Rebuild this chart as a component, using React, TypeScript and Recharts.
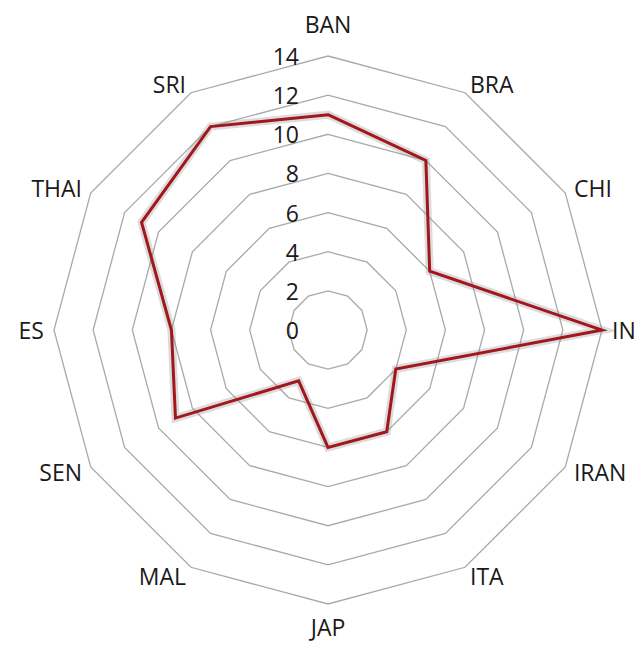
import { RadarChart, Radar, PolarGrid, PolarAngleAxis, PolarRadiusAxis } from "recharts";

const categories = ["BAN", "BRA", "CHI", "IN", "IRAN", "ITA", "JAP", "MAL", "SEN", "ES", "THAI", "SRI"];
const values = [11, 10, 6, 14, 4, 6, 6, 3, 9, 8, 11, 12];
const radiusTicks = [0, 2, 4, 6, 8, 10, 12, 14];

const data = categories.map((name, i) => ({ name, value: values[i] }));

const CX = 328;
const CY = 330;
const R = 274;
const FONT = "'Open Sans', sans-serif";

const AngleTick = (props: any) => {
  const i = categories.indexOf(props.payload.value);
  const theta = (i * 2 * Math.PI) / categories.length;
  const s = Math.sin(theta);
  const c = Math.cos(theta);
  let x = CX + (R + 10) * s;
  let y = CY - (R + 10) * c;
  let anchor = "middle";
  if (s > 0.1) anchor = "start";
  else if (s < -0.1) anchor = "end";
  if (Math.abs(s) < 0.1) y += c > 0 ? -22 : 13;
  return (
    <text
      x={x}
      y={y}
      textAnchor={anchor}
      dominantBaseline="central"
      fontFamily={FONT}
      fontSize={23}
      fill="#1a1a1a"
    >
      {props.payload.value}
    </text>
  );
};

const RadiusTick = (props: any) => {
  return (
    <text
      x={props.x - 29}
      y={props.y}
      textAnchor="end"
      dominantBaseline="central"
      fontFamily={FONT}
      fontSize={23}
      fill="#1a1a1a"
    >
      {props.payload.value}
    </text>
  );
};

const App = () => {
  return (
    <div style={{ position: "absolute", left: 0, top: 0, background: "#fff" }}>
      <RadarChart width={636} height={645} data={data} cx={CX} cy={CY} outerRadius={R}>
        <PolarGrid gridType="polygon" radialLines={false} stroke="#a9a9a9" strokeWidth={1.3} />
        <PolarAngleAxis dataKey="name" tick={<AngleTick />} tickLine={false} axisLine={false} />
        <PolarRadiusAxis
          angle={90}
          domain={[0, 14]}
          ticks={radiusTicks}
          tickCount={8}
          axisLine={false}
          tickLine={false}
          tick={<RadiusTick />}
        />
        {/* soft shadow under the line */}
        <Radar
          dataKey="value"
          stroke="#8c8c8c"
          strokeWidth={8}
          strokeOpacity={0.3}
          fill="none"
          fillOpacity={0}
          dot={false}
          isAnimationActive={false}
        />
        <Radar
          dataKey="value"
          stroke="#a3171c"
          strokeWidth={3}
          fill="none"
          fillOpacity={0}
          dot={false}
          isAnimationActive={false}
        />
      </RadarChart>
    </div>
  );
};

export default App;
